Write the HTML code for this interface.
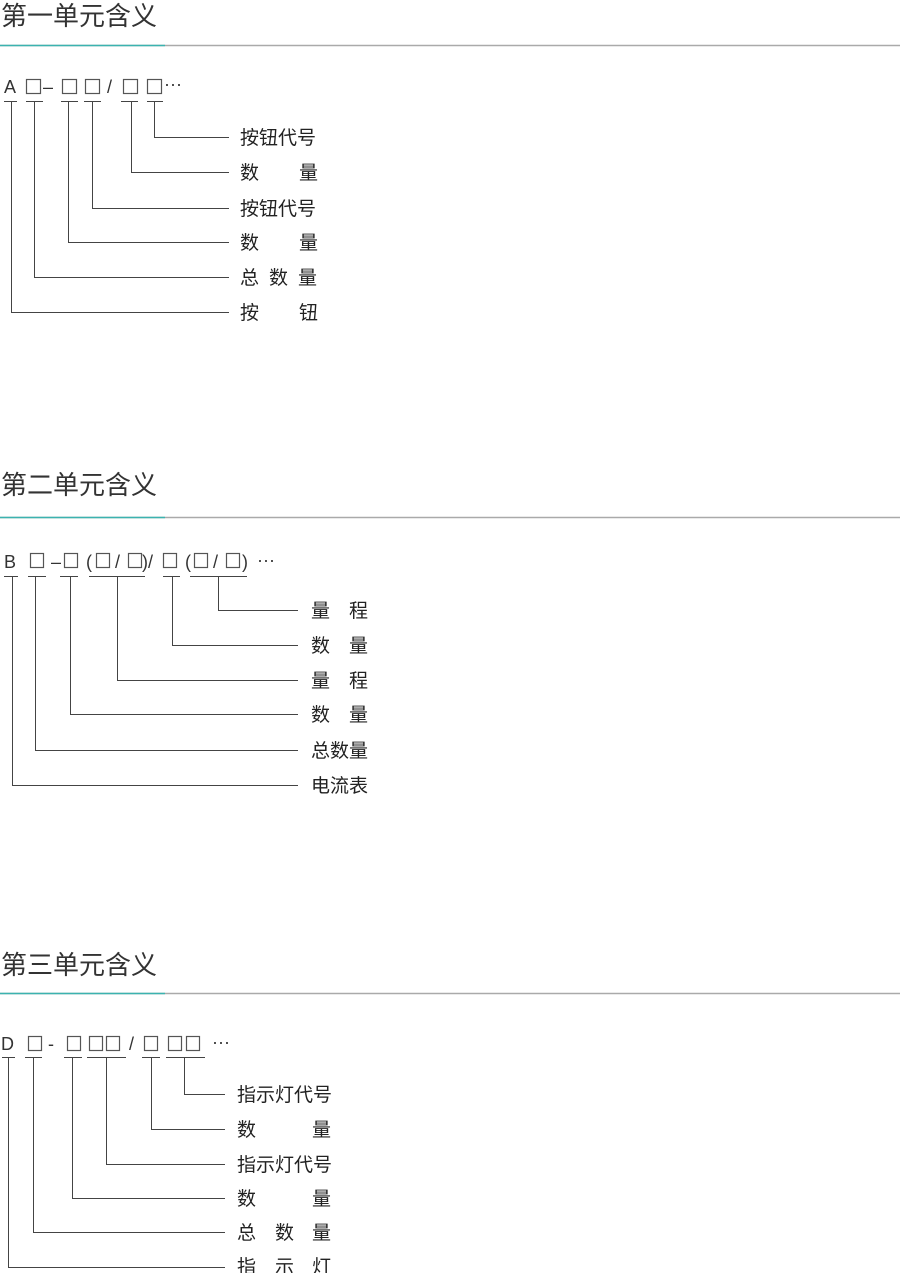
<!DOCTYPE html>
<html><head><meta charset="utf-8"><style>
html,body{margin:0;padding:0;background:#fff;}
svg{display:block;}
text{font-family:"Liberation Sans","Noto Sans CJK SC",sans-serif;fill:#333;}
.h{font-size:26px;fill:#333;}
.c{font-size:18px;}
.l{font-size:19px;fill:#222;}
</style></head><body>
<svg width="900" height="1273" xmlns="http://www.w3.org/2000/svg">
<!-- headers -->
<text class="h" x="1" y="25">第一单元含义</text>
<line x1="0" y1="45.5" x2="900" y2="45.5" stroke="#aaa" stroke-width="1.5"/>
<line x1="0" y1="45.5" x2="165" y2="45.5" stroke="#3bb3b0" stroke-width="1.5"/>
<text class="h" x="1" y="494">第二单元含义</text>
<line x1="0" y1="517.5" x2="900" y2="517.5" stroke="#aaa" stroke-width="1.5"/>
<line x1="0" y1="517.5" x2="165" y2="517.5" stroke="#3bb3b0" stroke-width="1.5"/>
<text class="h" x="1" y="974">第三单元含义</text>
<line x1="0" y1="993.5" x2="900" y2="993.5" stroke="#aaa" stroke-width="1.5"/>
<line x1="0" y1="993.5" x2="165" y2="993.5" stroke="#3bb3b0" stroke-width="1.5"/>

<!-- Section 1 -->
<g fill="none" stroke="#555" stroke-width="1.2">
<rect x="26.5" y="79.5" width="14" height="14"/>
<rect x="62.5" y="79.5" width="14" height="14"/>
<rect x="85.5" y="79.5" width="14" height="14"/>
<rect x="123.5" y="79.5" width="14" height="14"/>
<rect x="147.5" y="79.5" width="14" height="14"/>
</g>
<text class="c" x="4" y="93">A</text>
<text class="c" x="43" y="93">–</text>
<text class="c" x="107" y="93">/</text>
<text class="c" x="164" y="90">···</text>
<g stroke="#444" stroke-width="1" fill="none">
<path d="M4 101.5H17 M26 101.5H43 M61 101.5H78 M84 101.5H101 M121 101.5H138 M147 101.5H163"/>
<path d="M154.5 101.5V137.5H229 M131.5 101.5V172.5H229 M92.5 101.5V208.5H229 M68.5 101.5V242.5H229 M34.5 101.5V277.5H229 M11.5 101.5V312.5H229"/>
</g>
<text class="l" x="240" y="144">按钮代号</text>
<text class="l" x="240" y="179">数</text><text class="l" x="299" y="179">量</text>
<text class="l" x="240" y="215">按钮代号</text>
<text class="l" x="240" y="249">数</text><text class="l" x="299" y="249">量</text>
<text class="l" x="240" y="284">总</text><text class="l" x="269" y="284">数</text><text class="l" x="298" y="284">量</text>
<text class="l" x="240" y="319">按</text><text class="l" x="299" y="319">钮</text>

<!-- Section 2 -->
<g fill="none" stroke="#555" stroke-width="1.2">
<rect x="30.5" y="553.5" width="13" height="14"/>
<rect x="64.5" y="553.5" width="13" height="14"/>
<rect x="96.5" y="553.5" width="13" height="14"/>
<rect x="128.5" y="553.5" width="13" height="14"/>
<rect x="163.5" y="553.5" width="13" height="14"/>
<rect x="194.5" y="553.5" width="13" height="14"/>
<rect x="226.5" y="553.5" width="13" height="14"/>
</g>
<text class="c" x="4" y="568">B</text>
<text class="c" x="51" y="568">–</text>
<text class="c" x="86" y="568">(</text>
<text class="c" x="115" y="568">/</text>
<text class="c" x="142" y="568">)/</text>
<text class="c" x="185" y="568">(</text>
<text class="c" x="213" y="568">/</text>
<text class="c" x="242" y="568">)</text>
<text class="c" x="257" y="566">···</text>
<g stroke="#444" stroke-width="1" fill="none">
<path d="M4 576.5H18 M28 576.5H46 M60 576.5H78 M89 576.5H145 M163 576.5H180 M190 576.5H247"/>
<path d="M218.5 576.5V610.5H298 M172.5 576.5V645.5H298 M117.5 576.5V680.5H298 M70.5 576.5V714.5H298 M35.5 576.5V750.5H298 M12.5 576.5V785.5H298"/>
</g>
<text class="l" x="311" y="617">量</text><text class="l" x="349" y="617">程</text>
<text class="l" x="311" y="652">数</text><text class="l" x="349" y="652">量</text>
<text class="l" x="311" y="687">量</text><text class="l" x="349" y="687">程</text>
<text class="l" x="311" y="721">数</text><text class="l" x="349" y="721">量</text>
<text class="l" x="311" y="757">总数量</text>
<text class="l" x="311" y="792">电流表</text>

<!-- Section 3 -->
<g fill="none" stroke="#555" stroke-width="1.2">
<rect x="28.5" y="1036.5" width="13" height="14"/>
<rect x="67.5" y="1036.5" width="13" height="14"/>
<rect x="89.5" y="1036.5" width="13" height="14"/>
<rect x="106.5" y="1036.5" width="13" height="14"/>
<rect x="144.5" y="1036.5" width="13" height="14"/>
<rect x="168.5" y="1036.5" width="13" height="14"/>
<rect x="186.5" y="1036.5" width="13" height="14"/>
</g>
<text class="c" x="1" y="1050">D</text>
<text class="c" x="48" y="1050">-</text>
<text class="c" x="129" y="1050">/</text>
<text class="c" x="212" y="1048">···</text>
<g stroke="#444" stroke-width="1" fill="none">
<path d="M2 1057.5H15 M25 1057.5H42 M64 1057.5H82 M87 1057.5H126 M142 1057.5H160 M166 1057.5H205"/>
<path d="M184.5 1057.5V1094.5H225 M151.5 1057.5V1129.5H225 M106.5 1057.5V1164.5H225 M72.5 1057.5V1198.5H225 M33.5 1057.5V1232.5H225 M8.5 1057.5V1267.5H225"/>
</g>
<text class="l" x="237" y="1101">指示灯代号</text>
<text class="l" x="237" y="1136">数</text><text class="l" x="312" y="1136">量</text>
<text class="l" x="237" y="1171">指示灯代号</text>
<text class="l" x="237" y="1205">数</text><text class="l" x="312" y="1205">量</text>
<text class="l" x="237" y="1239">总</text><text class="l" x="275" y="1239">数</text><text class="l" x="312" y="1239">量</text>
<text class="l" x="237" y="1273">指</text><text class="l" x="275" y="1273">示</text><text class="l" x="312" y="1273">灯</text>
</svg>
</body></html>
